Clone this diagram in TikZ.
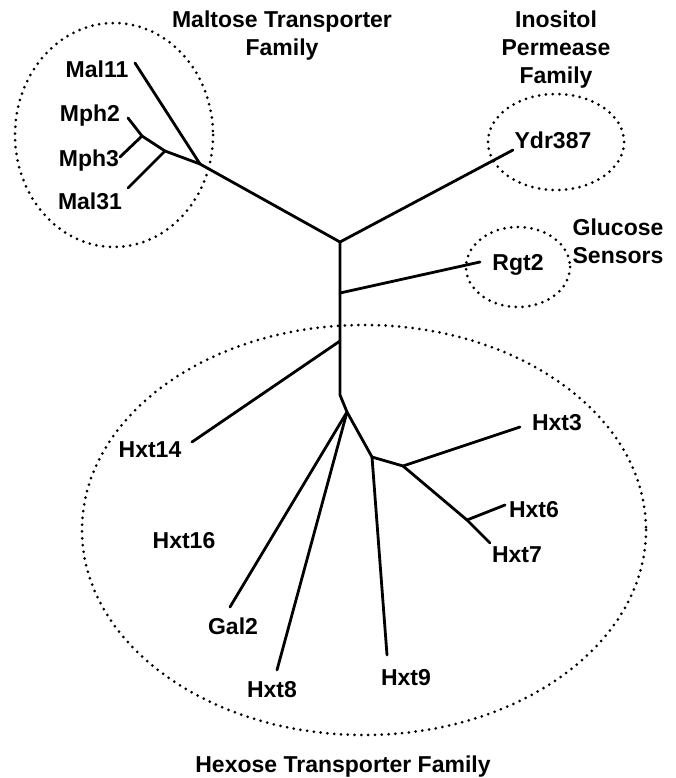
\documentclass[tikz,border=0pt]{standalone}
\usepackage{fontspec}
\setmainfont{Liberation Sans}
\usepackage{tikz}

\begin{document}
\begin{tikzpicture}[line cap=round,line join=round,x=1pt,y=-1pt,
  branch/.style={line width=2.8pt,color=black},
  family/.style={line width=3pt,dash pattern=on 0pt off 6.8pt,color=black},
  lbl/.style={inner sep=0pt,font=\fontsize{23}{28}\selectfont\bfseries,align=center}]
\useasboundingbox (0,0) rectangle (675,778);
\draw [family] (114,135) ellipse [x radius=99, y radius=112];
\draw [family] (556,142) ellipse [x radius=68, y radius=48];
\draw [family] (518,267) ellipse [x radius=52, y radius=40];
\draw [family] (364,530) ellipse [x radius=282, y radius=205];
\node [lbl] (maltose) at (282,36) {Maltose Transporter\\Family};
\node [lbl] (inositol) at (556,50) {Inositol\\Permease\\Family};
\node [lbl] (glucose) at (618,241) {Glucose\\Sensors};
\node [lbl] (hexose) at (343,767) {Hexose Transporter Family};
\node [lbl] (mal11) at (97,69) {Mal11};
\node [lbl] (mph2) at (90,116) {Mph2};
\node [lbl] (mph3) at (89,161) {Mph3};
\node [lbl] (mal31) at (90,201) {Mal31};
\node [lbl] (ydr387) at (553,140) {Ydr387};
\node [lbl] (rgt2) at (518,265) {Rgt2};
\node [lbl] (hxt14) at (150,450) {Hxt14};
\node [lbl] (hxt16) at (184,541) {Hxt16};
\node [lbl] (hxt3) at (557,423) {Hxt3};
\node [lbl] (hxt6) at (534,510) {Hxt6};
\node [lbl] (hxt7) at (517,555) {Hxt7};
\node [lbl] (gal2) at (233,626) {Gal2};
\node [lbl] (hxt8) at (272,690) {Hxt8};
\node [lbl] (hxt9) at (406,678) {Hxt9};
\coordinate (root) at (340,242);
\coordinate (kmal) at (200,164);
\coordinate (kmph) at (165,151);
\coordinate (kmph3) at (142,136);
\coordinate (krgt) at (340,293);
\coordinate (khxt14) at (340,341);
\coordinate (kbend) at (340,395);
\coordinate (khex) at (347,412);
\coordinate (khxt9) at (372,457);
\coordinate (khxt3) at (403,466);
\coordinate (khxt6) at (467,520);
\coordinate (mal11tip) at (135,63);
\coordinate (mph2tip) at (128,118);
\coordinate (mph3tip) at (120,157);
\coordinate (mal31tip) at (128,188);
\coordinate (ydrtip) at (513,150);
\coordinate (rgttip) at (480,262);
\coordinate (hxt14tip) at (192,442);
\coordinate (gal2tip) at (230,607);
\coordinate (hxt8tip) at (277,670);
\coordinate (hxt9tip) at (387,655);
\coordinate (hxt3tip) at (520,427);
\coordinate (hxt6tip) at (505,505);
\coordinate (hxt7tip) at (490,543);
\draw [branch] (root) -- (kmal);
\draw [branch] (kmal) -- (mal11tip);
\draw [branch] (kmal) -- (kmph) -- (kmph3) -- (mph2tip);
\draw [branch] (kmph3) -- (mph3tip);
\draw [branch] (kmph) -- (mal31tip);
\draw [branch] (root) -- (ydrtip);
\draw [branch] (root) -- (kbend) -- (khex) -- (khxt9) -- (khxt3);
\draw [branch] (krgt) -- (rgttip);
\draw [branch] (khxt14) -- (hxt14tip);
\draw [branch] (khex) -- (gal2tip);
\draw [branch] (khex) -- (hxt8tip);
\draw [branch] (khxt9) -- (hxt9tip);
\draw [branch] (khxt3) -- (hxt3tip);
\draw [branch] (khxt3) -- (khxt6) -- (hxt7tip);
\draw [branch] (khxt6) -- (hxt6tip);
\end{tikzpicture}
\end{document}
